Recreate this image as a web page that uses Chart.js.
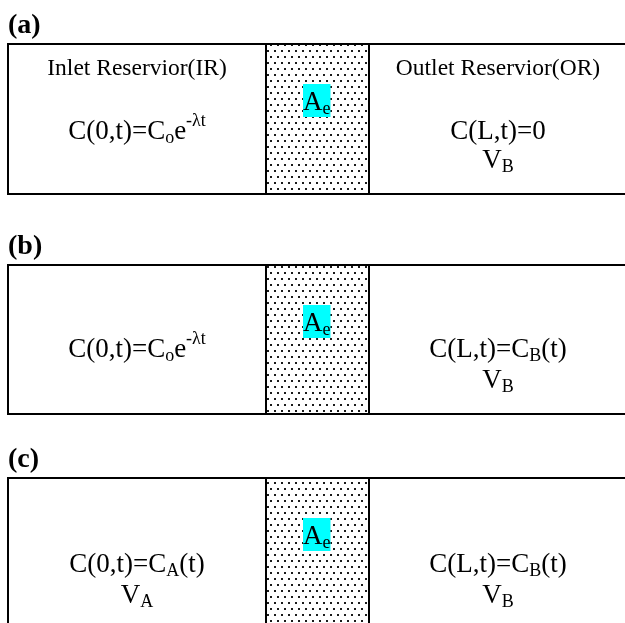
<!DOCTYPE html>
<html>
<head>
<meta charset="utf-8">
<script src="https://cdn.jsdelivr.net/npm/chart.js@4.4.1/dist/chart.umd.min.js"></script>
<style>
  html, body { margin: 0; padding: 0; background: #ffffff; }
  #wrap { width: 625px; height: 623px; }
</style>
</head>
<body>
<div id="wrap"><canvas id="diagram" width="625" height="623"></canvas></div>
<script>
// Three reservoir set-ups: (a) decaying inlet, sink outlet; (b) decaying inlet, finite outlet; (c) both finite.
const panelLabels = ['(a)', '(b)', '(c)'];
const panelTops = [44, 265, 478];
const panelBottoms = [194, 414, 628];
const reservoirWalls = [8, 627];   // outer walls of inlet and outlet reservoirs
const membraneWalls = [266, 369];  // porous section of effective area A_e

// Rich text runs: [text, level] with level 0 = normal, -1 = subscript, 1 = superscript
const inletTitles = ['Inlet Reservior(IR)', '', ''];
const outletTitles = ['Outlet Reservior(OR)', '', ''];
const inletConditions = [
  [['C(0,t)=C', 0], ['o', -1], ['e', 0], ['-\u03BBt', 1]],
  [['C(0,t)=C', 0], ['o', -1], ['e', 0], ['-\u03BBt', 1]],
  [['C(0,t)=C', 0], ['A', -1], ['(t)', 0]]
];
const inletVolumes = [null, null, [['V', 0], ['A', -1]]];
const outletConditions = [
  [['C(L,t)=0', 0]],
  [['C(L,t)=C', 0], ['B', -1], ['(t)', 0]],
  [['C(L,t)=C', 0], ['B', -1], ['(t)', 0]]
];
const outletVolumes = [
  [['V', 0], ['B', -1]],
  [['V', 0], ['B', -1]],
  [['V', 0], ['B', -1]]
];
const areaLabel = [['A', 0], ['e', -1]];

// Vertical layout of the text rows inside each panel (offset from panel top)
const rowOffsets = {
  label: -11, title: 31, area: 66,
  condition: [95, 92, 94],
  volume: [124, 123, 125]
};

const SERIF = '"Liberation Serif", "Times New Roman", serif';
const FONT_MAIN = 27, FONT_SMALL = 18, FONT_TITLE = 23.5, FONT_LABEL = 28;

function runFont(level) {
  return (level === 0 ? FONT_MAIN : FONT_SMALL) + 'px ' + SERIF;
}
function runShift(level) {
  return level === 0 ? 0 : (level < 0 ? 4 : -13);
}
function runsWidth(ctx, runs) {
  let w = 0;
  for (const [t, lv] of runs) { ctx.font = runFont(lv); w += ctx.measureText(t).width; }
  return w;
}
function drawRuns(ctx, runs, x, y) {
  for (const [t, lv] of runs) {
    ctx.font = runFont(lv);
    ctx.fillText(t, x, y + runShift(lv));
    x += ctx.measureText(t).width;
  }
  return x;
}
function drawRunsCentered(ctx, runs, cx, y) {
  drawRuns(ctx, runs, cx - runsWidth(ctx, runs) / 2, y);
}

function dotPattern(ctx) {
  const tile = document.createElement('canvas');
  tile.width = 7; tile.height = 12;
  const t = tile.getContext('2d');
  t.fillStyle = '#1a1a1a';
  t.fillRect(1, 2, 2, 2);
  t.fillRect(4, 8, 2, 2);
  return ctx.createPattern(tile, 'repeat');
}

const diagramPlugin = {
  id: 'reservoirDiagram',
  afterDraw(chart) {
    const ctx = chart.ctx;
    const xs = chart.scales.x, ys = chart.scales.y;
    const X = v => xs.getPixelForValue(v);
    const Y = v => ys.getPixelForValue(v);
    const pattern = dotPattern(ctx);

    ctx.save();
    ctx.textBaseline = 'alphabetic';
    ctx.fillStyle = '#000';

    panelLabels.forEach((label, i) => {
      const top = panelTops[i], bottom = panelBottoms[i];
      const x0 = X(reservoirWalls[0]), x1 = X(reservoirWalls[1]);
      const m0 = X(membraneWalls[0]), m1 = X(membraneWalls[1]);
      const y0 = Y(top), y1 = Y(bottom);

      // porous membrane texture
      ctx.save();
      ctx.fillStyle = pattern;
      ctx.fillRect(m0, y0, m1 - m0, y1 - y0);
      ctx.restore();

      // outlines
      ctx.save();
      ctx.strokeStyle = '#000';
      ctx.lineWidth = 2;
      ctx.strokeRect(x0, y0, x1 - x0, y1 - y0);
      ctx.beginPath();
      ctx.moveTo(m0, y0); ctx.lineTo(m0, y1);
      ctx.moveTo(m1, y0); ctx.lineTo(m1, y1);
      ctx.stroke();
      ctx.restore();

      // panel label
      ctx.fillStyle = '#000';
      ctx.font = 'bold ' + FONT_LABEL + 'px ' + SERIF;
      ctx.textAlign = 'left';
      ctx.fillText(label, x0, Y(top + rowOffsets.label));

      const inletCx = (x0 + m0) / 2;
      const outletCx = (m1 + x1) / 2;

      // reservoir titles
      ctx.font = FONT_TITLE + 'px ' + SERIF;
      ctx.textAlign = 'center';
      if (inletTitles[i]) ctx.fillText(inletTitles[i], inletCx, Y(top + rowOffsets.title));
      if (outletTitles[i]) ctx.fillText(outletTitles[i], outletCx, Y(top + rowOffsets.title));
      ctx.textAlign = 'left';

      // boundary conditions and volumes
      const cy = Y(top + rowOffsets.condition[i]);
      const vy = Y(top + rowOffsets.volume[i]);
      drawRunsCentered(ctx, inletConditions[i], inletCx, cy);
      if (inletVolumes[i]) drawRunsCentered(ctx, inletVolumes[i], inletCx, vy);
      drawRunsCentered(ctx, outletConditions[i], outletCx, cy);
      if (outletVolumes[i]) drawRunsCentered(ctx, outletVolumes[i], outletCx, vy);

      // effective area tag with cyan highlight
      const ay = Y(top + rowOffsets.area);
      const ax = m0 + 37;
      const aw = runsWidth(ctx, areaLabel);
      ctx.fillStyle = '#00ffff';
      ctx.fillRect(ax, ay - 26, aw, 33);
      ctx.fillStyle = '#000';
      drawRuns(ctx, areaLabel, ax, ay);
    });
    ctx.restore();
  }
};

new Chart(document.getElementById('diagram'), {
  type: 'scatter',
  data: { datasets: [{ data: [] }] },
  options: {
    responsive: false,
    animation: false,
    devicePixelRatio: 1,
    layout: { padding: 0 },
    plugins: { legend: { display: false }, tooltip: { enabled: false } },
    scales: {
      x: { type: 'linear', min: 0, max: 625, display: false },
      y: { type: 'linear', min: 0, max: 623, reverse: true, display: false }
    }
  },
  plugins: [diagramPlugin]
});
</script>
</body>
</html>
